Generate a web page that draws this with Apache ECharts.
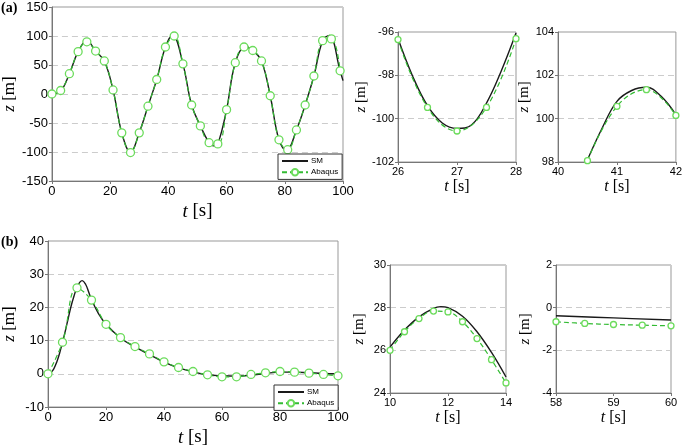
<!DOCTYPE html>
<html>
<head>
<meta charset="utf-8">
<script src="https://cdn.jsdelivr.net/npm/echarts@6/dist/echarts.min.js"></script>
<style>
  html, body { margin: 0; padding: 0; background: #fff; }
  #chart { width: 685px; height: 448px; }
</style>
</head>
<body>
<div id="chart"></div>
<script>
  // (a) main panel: Abaqus markers every 3 s, SM curve
  const aTime = [0, 3, 6, 9, 12, 15, 18, 21, 24, 27, 30, 33, 36, 39, 42, 45, 48, 51, 54, 57, 60, 63, 66, 69, 72, 75, 78, 81, 84, 87, 90, 93, 96, 99];
  const aAbaqus = [0, 6, 35, 73, 90, 74, 57, 7, -67, -101, -67, -21, 25, 81, 100, 52, -19, -55, -84, -86, -27, 54, 81, 75, 57, -3, -79, -96, -62, -19, 31, 92, 95, 40];
  const aSmTime = [0, 3, 6, 9, 12, 15, 18, 21, 24, 27, 30, 33, 36, 39, 41.5, 45, 48, 51, 54, 55.6, 57, 60, 63, 66.5, 69, 72, 75, 78, 80.6, 84, 87, 90, 93, 95.3, 99, 100];
  const aSm = [0, 5, 35, 73, 92, 74, 57, 7, -67, -100.5, -67, -21, 25, 81, 101.4, 52, -19, -55, -84, -89.5, -86, -27, 54, 82, 75, 57, -3, -79, -97.5, -62, -19, 31, 92, 101, 40, 23];

  // (a) zoom 26-28 s
  const a1Time = [26, 26.5, 27, 27.5, 28];
  const a1Abaqus = [-96.35, -99.48, -100.57, -99.48, -96.31];
  const a1SmTime = [26, 26.25, 26.5, 26.75, 27, 27.25, 27.5, 27.75, 28];
  const a1Sm = [-96.3, -98.05, -99.4, -100.2, -100.45, -100.28, -99.28, -97.8, -96.05];

  // (a) zoom 40-42 s
  const a2Time = [40.5, 41, 41.5, 42];
  const a2Abaqus = [98.06, 100.57, 101.34, 100.15];
  const a2SmTime = [40.5, 40.75, 41, 41.25, 41.5, 41.75, 42];
  const a2Sm = [98.1, 99.57, 100.8, 101.3, 101.45, 101.03, 100.18];

  // (b) main panel: Abaqus markers every 5 s
  const bTime = [0, 5, 10, 15, 20, 25, 30, 35, 40, 45, 50, 55, 60, 65, 70, 75, 80, 85, 90, 95, 100];
  const bAbaqus = [0, 9.5, 25.9, 22.2, 14.9, 10.9, 8.2, 6.0, 3.6, 1.9, 0.7, -0.3, -0.9, -0.9, -0.2, 0.3, 0.7, 0.5, 0.2, -0.2, -0.6];
  const bSmTime = [0, 1, 2, 3, 4, 5, 6, 7, 8, 9, 10, 11, 11.8, 13, 14, 15, 17.5, 20, 25, 30, 35, 40, 45, 50, 55, 60, 65, 70, 75, 80, 85, 90, 95, 100];
  const bSm = [0, 0.4, 1.5, 3.5, 6.2, 9.5, 13, 16.8, 20.5, 23.5, 26.1, 27.6, 28.05, 26.9, 24.7, 22.3, 18, 14.9, 10.8, 8.1, 5.8, 3.5, 1.8, 0.6, -0.3, -0.6, -0.7, -0.4, 0.1, 0.5, 0.5, 0.3, 0.1, 0];

  // (b) zoom 10-14 s
  const b1Time = [10, 10.5, 11, 11.5, 12, 12.5, 13, 13.5, 14];
  const b1Abaqus = [26.0, 26.87, 27.49, 27.84, 27.8, 27.34, 26.55, 25.56, 24.47];
  const b1SmTime = [10, 10.5, 11, 11.5, 11.75, 12, 12.5, 13, 13.5, 14];
  const b1Sm = [26.15, 26.95, 27.57, 27.97, 28.05, 28.0, 27.6, 26.87, 25.9, 24.75];

  // (b) zoom 58-60 s
  const b2Time = [58, 58.5, 59, 59.5, 60];
  const b2Abaqus = [-0.66, -0.74, -0.79, -0.82, -0.85];
  const b2SmTime = [58, 59, 60];
  const b2Sm = [-0.38, -0.48, -0.58];

  const SANS = 'Liberation Sans';
  const SERIF = 'Liberation Serif';

  // panel boxes [left, top, width, height] and axis ranges
  const panels = [
    { box: [46, 7, 297, 174], x: [0, 100, 20], y: [-150, 150, 50], big: true },
    { box: [398, 32, 118, 130], x: [26, 28, 1], y: [-102, -96, 2] },
    { box: [558, 32, 120, 130], x: [40, 42, 1], y: [98, 104, 2] },
    { box: [41, 241, 297, 171], x: [0, 100, 20], y: [-10, 40, 10], big: true },
    { box: [390, 265, 116, 128], x: [10, 14, 2], y: [24, 30, 2] },
    { box: [556, 265, 115, 128], x: [58, 60, 1], y: [-4, 2, 2] }
  ];

  const pair = (ts, zs) => ts.map((t, k) => [t, zs[k]]);

  const nameStyle = size => ({
    fontFamily: SERIF, fontSize: size, color: '#000',
    rich: {
      i: { fontStyle: 'italic', fontFamily: SERIF, fontSize: size, color: '#000' },
      n: { fontFamily: SERIF, fontSize: size, color: '#000' }
    }
  });

  const grids = panels.map(p => ({
    left: p.box[0], top: p.box[1], width: p.box[2], height: p.box[3],
    show: true, borderColor: '#999', borderWidth: 1, backgroundColor: '#fff'
  }));

  const xAxes = panels.map((p, i) => ({
    type: 'value', gridIndex: i, min: p.x[0], max: p.x[1], interval: p.x[2],
    name: '{i|t} {n|[s]}', nameLocation: 'middle', nameGap: p.big ? 21 : 17,
    nameTextStyle: nameStyle(p.big ? 19 : 16),
    axisLine: { onZero: false, lineStyle: { color: '#777' } },
    axisTick: { length: 3, lineStyle: { color: '#777' } },
    axisLabel: { color: '#000', fontFamily: SANS, fontSize: p.big ? 13 : 11, margin: 4 },
    splitLine: { show: false }
  }));

  const yAxes = panels.map((p, i) => ({
    type: 'value', gridIndex: i, min: p.y[0], max: p.y[1], interval: p.y[2],
    name: '{i|z} {n|[m]}', nameLocation: 'middle', nameGap: p.big ? 30 : 23,
    nameTextStyle: nameStyle(p.big ? 17 : 15),
    axisLine: { onZero: false, lineStyle: { color: '#777' } },
    axisTick: { length: 3, lineStyle: { color: '#777' } },
    axisLabel: { color: '#000', fontFamily: SANS, fontSize: p.big ? 13 : 11, margin: 4 },
    splitLine: { show: true, lineStyle: { color: '#ccc', type: [6, 4], width: 1 } }
  }));

  const smSeries = (i, ts, zs) => ({
    name: 'SM', type: 'line', xAxisIndex: i, yAxisIndex: i,
    data: pair(ts, zs), smooth: 0.4, symbol: 'none', showSymbol: false,
    lineStyle: { color: '#1a1a1a', width: 1.4 }, itemStyle: { color: '#1a1a1a' }, z: 2
  });

  const abaqusSeries = (i, ts, zs, size) => ({
    name: 'Abaqus', type: 'line', xAxisIndex: i, yAxisIndex: i,
    data: pair(ts, zs), smooth: 0.4, symbol: 'circle', symbolSize: size,
    lineStyle: { color: '#33bb33', width: 1.2, type: [5, 3] },
    itemStyle: { color: '#fff', borderColor: '#6cdc5c', borderWidth: 1.3 }, z: 3
  });

  const series = [
    smSeries(0, aSmTime, aSm), abaqusSeries(0, aTime, aAbaqus, 8),
    smSeries(1, a1SmTime, a1Sm), abaqusSeries(1, a1Time, a1Abaqus, 6),
    smSeries(2, a2SmTime, a2Sm), abaqusSeries(2, a2Time, a2Abaqus, 6),
    smSeries(3, bSmTime, bSm), abaqusSeries(3, bTime, bAbaqus, 8),
    smSeries(4, b1SmTime, b1Sm), abaqusSeries(4, b1Time, b1Abaqus, 6),
    smSeries(5, b2SmTime, b2Sm), abaqusSeries(5, b2Time, b2Abaqus, 6)
  ];

  const legendAt = (left, top) => ({
    data: [
      { name: 'SM', itemStyle: { opacity: 0 } },
      { name: 'Abaqus' }
    ],
    left: left, top: top, orient: 'vertical',
    itemWidth: 26, itemHeight: 8, itemGap: 3, padding: [3, 4, 3, 3],
    borderColor: '#333', borderWidth: 1, backgroundColor: '#fff',
    selectedMode: false,
    textStyle: { fontFamily: SANS, fontSize: 8, color: '#000', padding: [0, 0, 0, -2] }
  });

  const chart = echarts.init(document.getElementById('chart'));
  chart.setOption({
    animation: false,
    grid: grids,
    xAxis: xAxes,
    yAxis: yAxes,
    legend: [legendAt(278, 154), legendAt(274, 385)],
    graphic: [
      { type: 'text', left: 1, top: 1, style: { text: '(a)', fontFamily: SERIF, fontWeight: 'bold', fontSize: 14, fill: '#000' } },
      { type: 'text', left: 1, top: 235, style: { text: '(b)', fontFamily: SERIF, fontWeight: 'bold', fontSize: 14, fill: '#000' } }
    ],
    series: series
  });
</script>
</body>
</html>
